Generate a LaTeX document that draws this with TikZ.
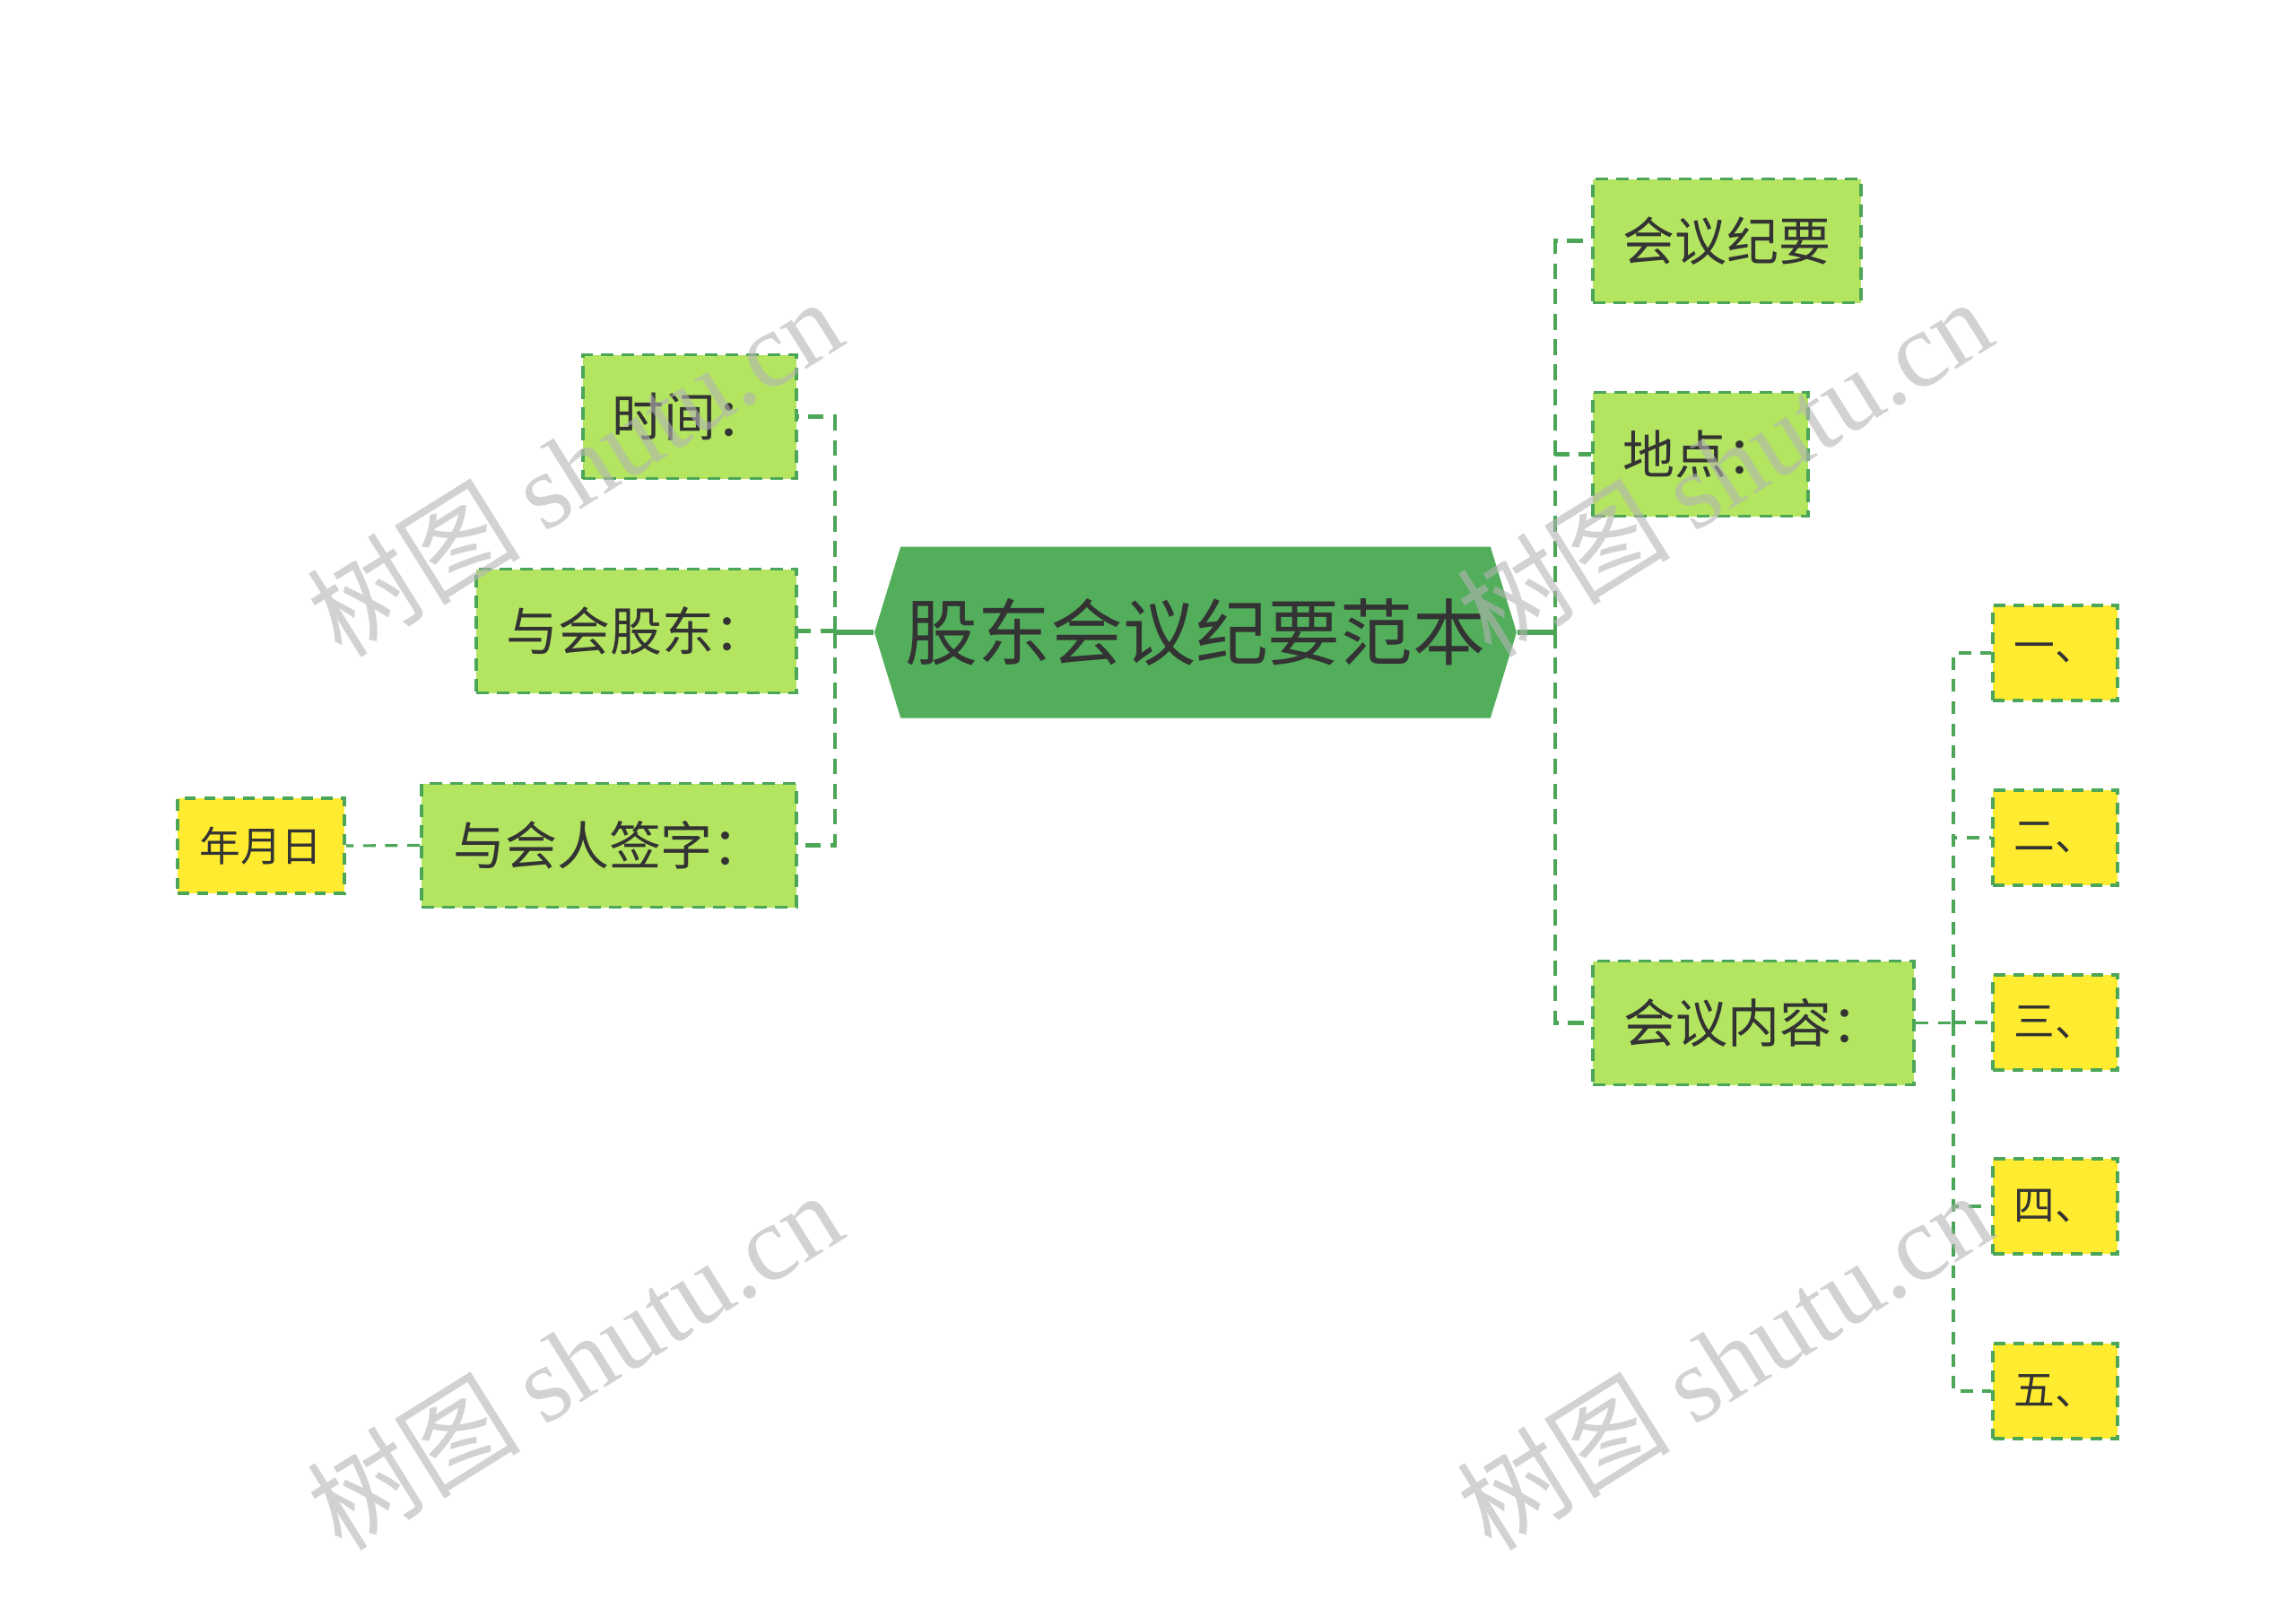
\documentclass[tikz,border=0pt]{standalone}
\usepackage{fontspec}
\setmainfont{Noto Sans CJK SC}
\newfontfamily\wmfont{Liberation Serif}
\usetikzlibrary{shapes.symbols}
\definecolor{hexgreen}{HTML}{53AE5C}
\definecolor{boxgreen}{HTML}{B3E561}
\definecolor{boxyellow}{HTML}{FFEC30}
\definecolor{linegreen}{HTML}{4CA657}
\definecolor{textgray}{HTML}{333333}
\definecolor{wmgray}{HTML}{B4B4B4}
\begin{document}
\begin{tikzpicture}[
    topic/.style={shape=signal, signal to=west and east, signal pointer angle=146,
        fill=hexgreen, text=textgray, minimum width=7.16cm, minimum height=1.91cm,
        inner sep=0pt, font=\fontsize{23pt}{27pt}\selectfont},
    subbox/.style={draw=linegreen, line width=1.1pt, dash pattern=on 4pt off 2.6pt,
        fill=boxgreen, text=textgray, minimum height=1.38cm, inner sep=0pt,
        font=\fontsize{16.5pt}{20pt}\selectfont},
    leafbox/.style={draw=linegreen, line width=1pt, dash pattern=on 3.6pt off 2.6pt,
        fill=boxyellow, text=textgray, minimum height=1.06cm, inner sep=0pt,
        font=\fontsize{13pt}{16pt}\selectfont},
    mainline/.style={draw=linegreen, line width=1.6pt},
    subline/.style={draw=linegreen, line width=1.3pt, dash pattern=on 5pt off 3pt},
    leafline/.style={draw=linegreen, line width=0.9pt, dash pattern=on 4pt off 3pt},
    watermark/.style={text=wmgray, opacity=0.6, rotate=32, font=\fontsize{34pt}{40pt}\selectfont}
]
\useasboundingbox (0,0) rectangle (25.6,-18.04);

% centre topic
\node[topic] (hex) at (13.33,-7.05) {股东会议纪要范本};

% left branch
\node[subbox, minimum width=2.38cm] (shijian) at (7.69,-4.645) {时间：};
\node[subbox, minimum width=3.57cm] (gudong) at (7.095,-7.035) {与会股东：};
\node[subbox, minimum width=4.18cm] (qianzi) at (6.79,-9.425) {与会人签字：};
\node[leafbox, minimum width=1.86cm] (nyr) at (2.91,-9.43) {年月日};

% right branch
\node[subbox, minimum width=2.99cm] (jiyao) at (19.255,-2.685) {会议纪要};
\node[subbox, minimum width=2.40cm] (didian) at (18.96,-5.065) {地点：};
\node[subbox, minimum width=3.58cm] (neirong) at (19.55,-11.405) {会议内容：};
\node[leafbox, minimum width=1.39cm] (yi) at (22.915,-7.28) {一、};
\node[leafbox, minimum width=1.39cm] (er) at (22.915,-9.34) {二、};
\node[leafbox, minimum width=1.39cm] (san) at (22.915,-11.40) {三、};
\node[leafbox, minimum width=1.39cm] (si) at (22.915,-13.45) {四、};
\node[leafbox, minimum width=1.39cm] (wu) at (22.915,-15.51) {五、};

% connectors
\coordinate (ltrunk) at (9.31,-7.05);
\coordinate (rtrunk) at (17.34,-7.05);
\coordinate (ntrunk) at (21.78,-11.405);
\draw[mainline] (hex.west) -- (ltrunk);
\draw[mainline] (hex.east) -- (rtrunk);
\foreach \n in {shijian,gudong,qianzi}
    \draw[subline] (ltrunk) |- (\n.east);
\foreach \n in {jiyao,didian,neirong}
    \draw[subline] (rtrunk) |- (\n.west);
\draw[leafline] (qianzi.west) -- (nyr.east);
\draw[leafline] (neirong.east) -- (ntrunk);
\foreach \n in {yi,er,san,si,wu}
    \draw[leafline] (ntrunk) |- (\n.west);

% watermarks, on top
\foreach \wx/\wy in {6.40/-5.20, 6.40/-15.16, 19.22/-5.20, 19.22/-15.16}
    \node[watermark] at (\wx,\wy) {树图 {\wmfont shutu.cn}};
\end{tikzpicture}
\end{document}
